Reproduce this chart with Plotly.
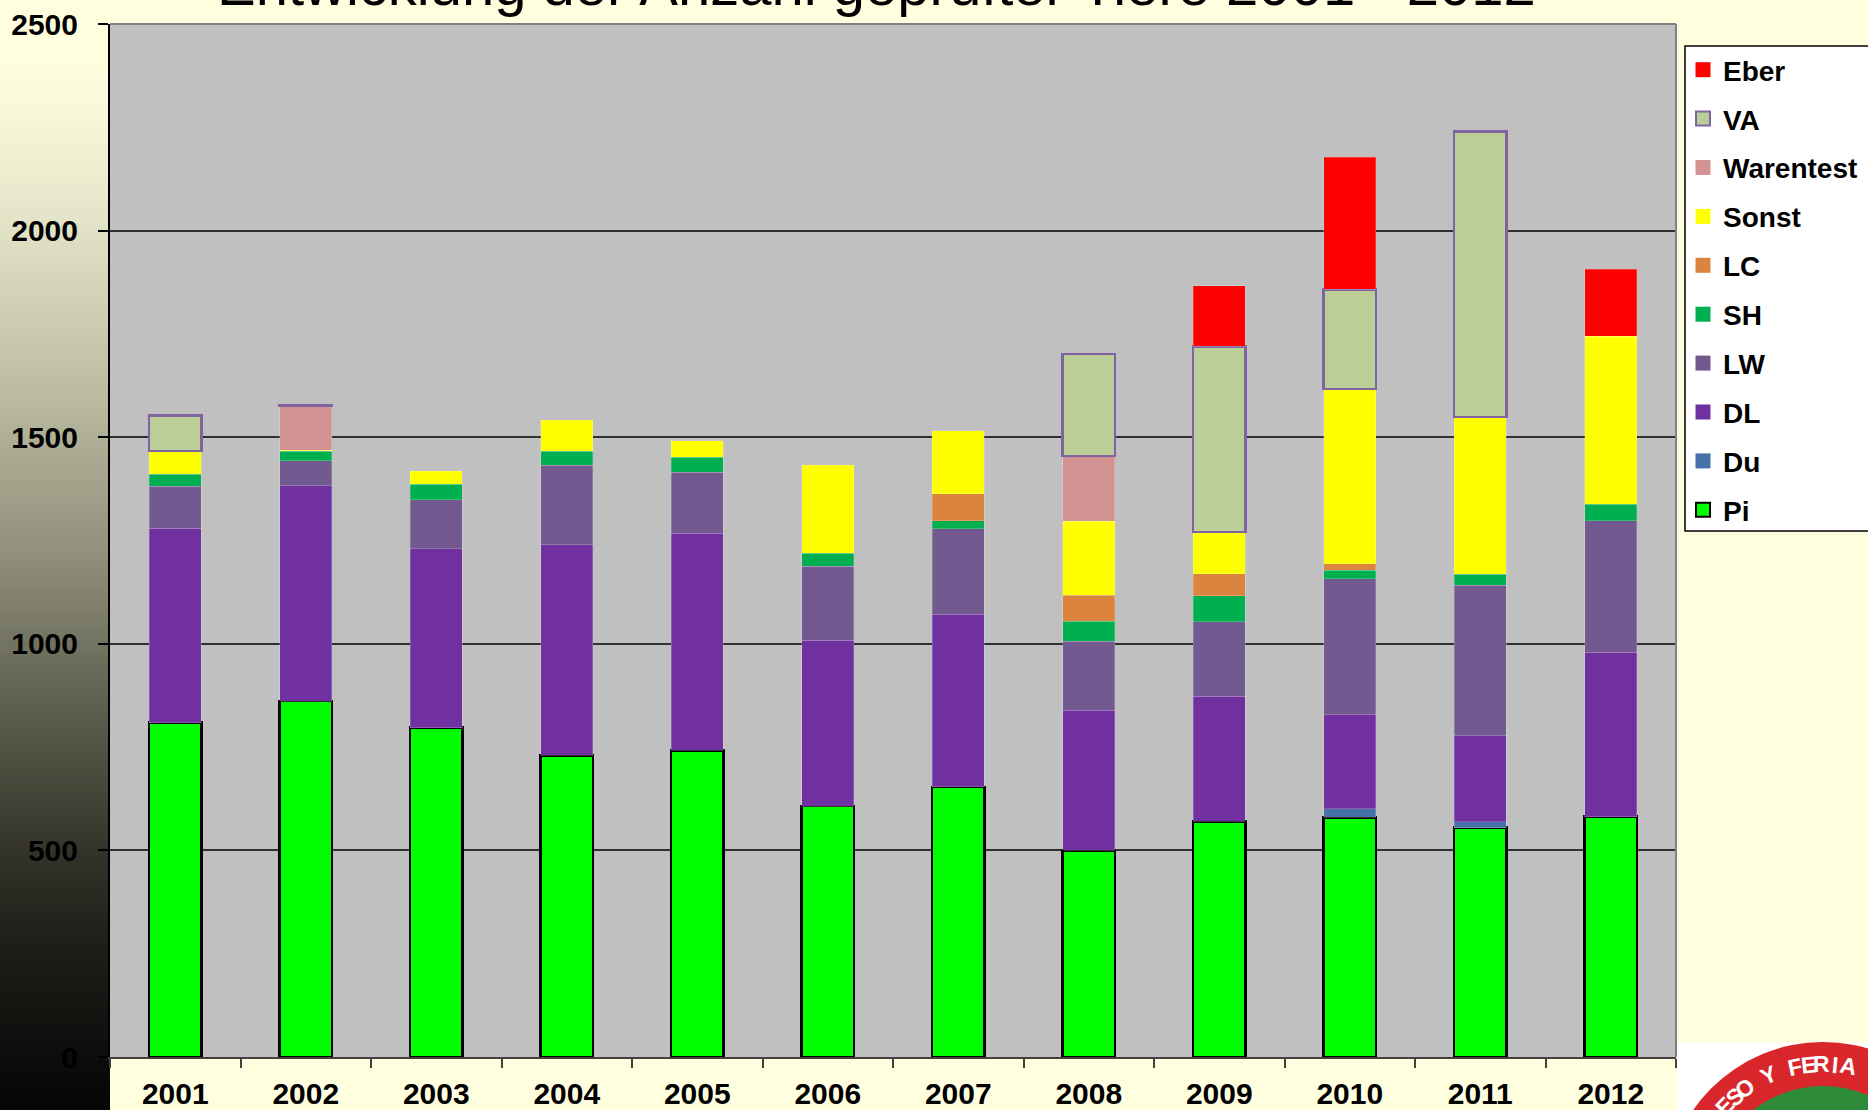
import math
import plotly.graph_objects as go

years = ["2001", "2002", "2003", "2004", "2005", "2006",
         "2007", "2008", "2009", "2010", "2011", "2012"]

pi_vals = [809, 861, 797, 730, 742, 607, 654, 500, 570, 580, 555, 582]
du_vals = [None, None, None, None, None, None, None, None, None, 21, 14, None]
dl_vals = [471, 521, 433, 510, 525, 402, 417, 339, 303, 227, 209, 398]
lw_vals = [101, 61, 119, 192, 148, 179, 208, 167, 180, 330, 364, 318]
sh_vals = [29, 23, 37, 34, 37, 31, 19, 48, 63, 20, 26, 40]
lc_vals = [None, None, None, None, None, None, 65, 63, 53, 16, None, None]
sonst_vals = [57, 3, 32, 75, 40, 213, 153, 180, 102, 423, 381, 406]
warentest_vals = [None, 107, None, None, None, None, None, 157, None, None, None, None]
va_vals = [85, 2, None, None, None, None, None, 247, 449, 241, 691, None]
eber_vals = [None, None, None, None, None, None, None, None, 146, 319, None, 163]

thin = "rgba(255,255,255,0.25)"
series = [
    ("Pi", pi_vals, "#00FF00", "#000000", 2.5),
    ("Du", du_vals, "#4472A8", thin, 0.8),
    ("DL", dl_vals, "#7030A0", thin, 0.8),
    ("LW", lw_vals, "#72598F", thin, 0.8),
    ("SH", sh_vals, "#00B050", thin, 0.8),
    ("LC", lc_vals, "#DB843D", thin, 0.8),
    ("Sonst", sonst_vals, "#FFFF00", thin, 0.8),
    ("Warentest", warentest_vals, "#D39393", thin, 0.8),
    ("VA", va_vals, "#BBCE98", "#8064A2", 2.5),
    ("Eber", eber_vals, "#FF0000", thin, 0.8),
]

title_text = "Entwicklung der Anzahl geprüfter Tiere 2001 - 2012"
logo_text = "GRESO Y FERIA NACIONAL"

W, H = 1868, 1110
L, R, T, B = 110, 192, 24, 53
PW, PH = W - L - R, H - T - B


def px_x(x):
    return (x - L) / PW


def px_y(y):
    return (H - B - y) / PH


fig = go.Figure()
for name, vals, color, lcolor, lw in series:
    fig.add_trace(go.Bar(
        name=name, x=years, y=vals,
        marker=dict(color=color, line=dict(color=lcolor, width=lw)),
        showlegend=False, hoverinfo="skip",
    ))

# legend entries (top to bottom: Eber ... Pi)
for name, vals, color, lcolor, lw in reversed(series):
    big = lw > 1
    fig.add_trace(go.Scatter(
        name=name, x=[None], y=[None], mode="markers",
        marker=dict(symbol="square", size=15 if not big else 14, color=color,
                    line=dict(color=lcolor if big else color, width=2 if big else 0)),
        legendgroup=name, showlegend=True, hoverinfo="skip",
    ))

shapes = []
# left gradient strip
stops = [(0, (255, 255, 224)), (60, (255, 255, 224)), (200, (232, 232, 204)),
         (400, (186, 186, 160)), (550, (145, 145, 124)), (715, (92, 92, 77)),
         (850, (52, 52, 42)), (953, (28, 28, 24)), (1110, (5, 5, 5))]


def col_at(y):
    for (y0, c0), (y1, c1) in zip(stops[:-1], stops[1:]):
        if y0 <= y <= y1:
            t = (y - y0) / (y1 - y0) if y1 > y0 else 0
            return "rgb(%d,%d,%d)" % tuple(round(a + (b - a) * t) for a, b in zip(c0, c1))
    return "rgb(5,5,5)"


step = 5
for y in range(0, H + step, step):
    shapes.append(dict(type="rect", xref="paper", yref="paper",
                       x0=px_x(-2), x1=px_x(L), y0=px_y(y + step + 1.5), y1=px_y(y),
                       fillcolor=col_at(y + step / 2), line=dict(width=0), layer="below"))

# plot frame top/right (gray)
shapes.append(dict(type="line", xref="paper", yref="paper", x0=0, x1=1, y0=1, y1=1,
                   line=dict(color="#808080", width=2)))
shapes.append(dict(type="line", xref="paper", yref="paper", x0=1, x1=1, y0=0, y1=1,
                   line=dict(color="#808080", width=2)))

# legend box (runs off the right edge as in the original)
shapes.append(dict(type="rect", xref="paper", yref="paper",
                   x0=px_x(1685), x1=px_x(W + 20), y0=px_y(531), y1=px_y(46),
                   fillcolor="white", line=dict(color="#000000", width=1.5)))

# logo area (bottom right)
shapes.append(dict(type="rect", xref="paper", yref="paper",
                   x0=px_x(1677), x1=px_x(W + 5), y0=px_y(H + 5), y1=px_y(1043),
                   fillcolor="white", line=dict(width=0)))
cx, cy = 1823, 1200
for r, c in [(158, "#D9262B"), (114, "#2E8B3A"), (84, "#E9C46A")]:
    shapes.append(dict(type="circle", xref="paper", yref="paper",
                       x0=px_x(cx - r), x1=px_x(cx + r), y0=px_y(cy + r), y1=px_y(cy - r),
                       fillcolor=c, line=dict(width=0)))

annotations = [dict(text=title_text, xref="paper", yref="paper",
                    x=px_x(876), y=px_y(19), xanchor="center", yanchor="bottom",
                    showarrow=False,
                    font=dict(family="Liberation Sans Narrow, Arial Narrow, Liberation Sans",
                              size=58, color="#000000"))]

idx_f = logo_text.index("F")
for i, ch in enumerate(logo_text):
    if ch == " ":
        continue
    ang = 102 + (idx_f - i) * 5.7
    rr = 136
    lx = cx + rr * math.cos(math.radians(ang))
    ly = cy - rr * math.sin(math.radians(ang))
    if lx > W - 10 or ly > H - 2 or lx < 1685:
        continue
    annotations.append(dict(text="<b>%s</b>" % ch, xref="paper", yref="paper",
                            x=px_x(lx), y=px_y(ly), xanchor="center", yanchor="middle",
                            showarrow=False, textangle=90 - ang,
                            font=dict(family="Liberation Sans", size=23, color="white")))

fig.update_layout(
    width=W, height=H,
    margin=dict(l=L, r=R, t=T, b=B, pad=0, autoexpand=False),
    paper_bgcolor="#FFFFE0",
    plot_bgcolor="#C0C0C0",
    barmode="stack",
    bargap=0.6,
    shapes=shapes,
    annotations=annotations,
    showlegend=True,
    legend=dict(x=px_x(1683), y=px_y(45), xanchor="left", yanchor="top",
                bgcolor="rgba(0,0,0,0)", borderwidth=0,
                traceorder="grouped", tracegroupgap=9.5,
                font=dict(family="Liberation Sans, Arial", size=28, color="black",
                          weight="bold"),
                itemclick=False, itemdoubleclick=False),
    font=dict(family="Liberation Sans, Arial", color="black"),
)
fig.update_xaxes(
    type="category", showgrid=False, showline=True, linecolor="#404040", linewidth=2,
    ticks="outside", tickson="boundaries", ticklen=9, tickcolor="#404040", tickwidth=1.5,
    tickfont=dict(family="Liberation Sans, Arial", size=30, color="black", weight="bold"),
    ticklabelstandoff=9, automargin=False,
)
fig.update_yaxes(
    range=[0, 2500], dtick=500, showgrid=True, gridcolor="#303030", gridwidth=1.5,
    showline=True, linecolor="#000000", linewidth=2, zeroline=False,
    ticks="outside", ticklen=10, tickcolor="#000000", tickwidth=1.5,
    tickfont=dict(family="Liberation Sans, Arial", size=30, color="black", weight="bold"),
    ticklabelstandoff=14, automargin=False,
)

fig.write_html("out.html", post_script="document.body.style.margin='0';",
               config={"displayModeBar": False})
